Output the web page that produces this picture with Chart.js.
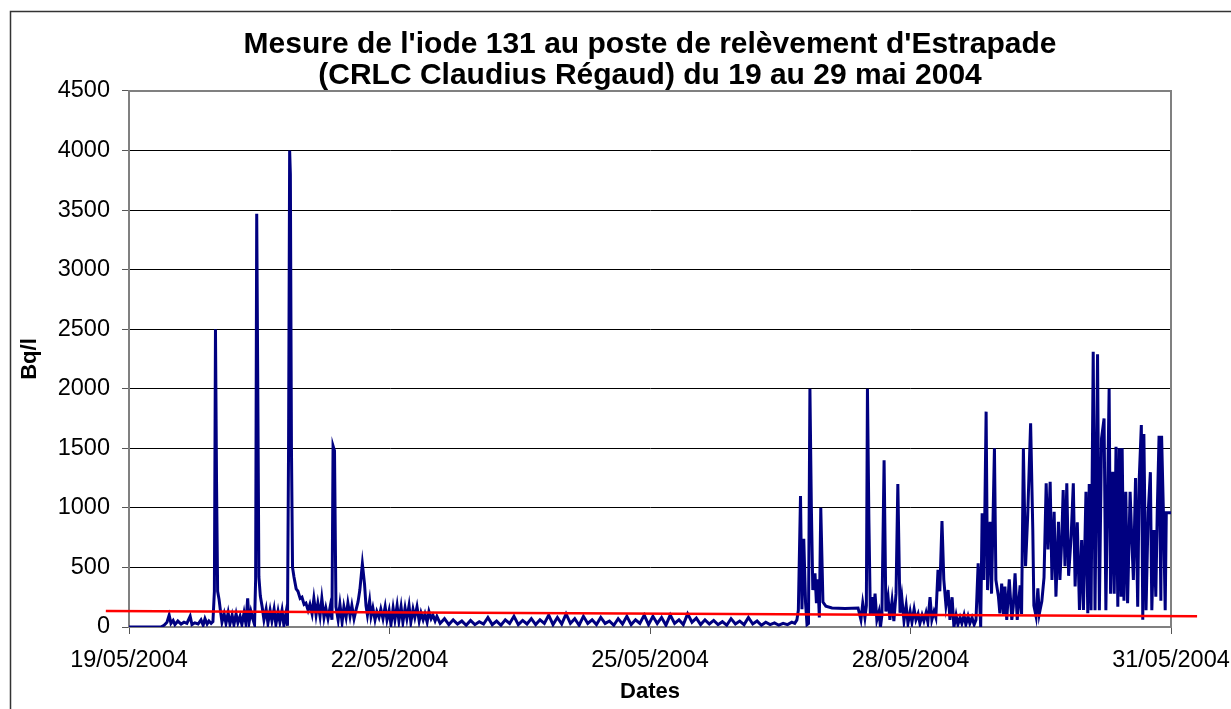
<!DOCTYPE html>
<html>
<head>
<meta charset="utf-8">
<title>Iode 131 - Estrapade</title>
<script src="https://cdn.jsdelivr.net/npm/chart.js@4.4.0/dist/chart.umd.min.js"></script>
<style>
  html, body { margin: 0; padding: 0; background: #fff; }
  #wrap { width: 1231px; height: 709px; }
</style>
</head>
<body>
<div id="wrap"><canvas id="chart" width="1231" height="709"></canvas></div>
<script>
// hours since 19/05/2004 00:00
const hours = [
  0, 8.8, 9.7, 10.5, 11.1, 11.6, 12.2, 12.7, 13.5, 14.4,
  15.2, 16.0, 16.9, 17.4, 18.2, 19.1, 19.9, 20.5, 21.0, 21.6,
  22.1, 22.7, 23.2, 23.6, 23.9, 24.2, 24.5, 24.9, 25.3, 25.7,
  26.3, 26.8, 27.4, 27.9, 28.5, 29.0, 29.6, 30.1, 30.7, 31.2,
  31.8, 32.3, 32.8, 33.2, 33.7, 34.3, 34.7, 35.0, 35.3, 35.6,
  35.9, 36.3, 36.8, 37.3, 37.9, 38.4, 39.0, 39.5, 40.1, 40.6,
  41.2, 41.7, 42.3, 42.8, 43.4, 43.8, 44.1, 44.4, 44.6, 44.9,
  45.2, 45.6, 46.2, 46.7, 47.3, 47.8, 48.4, 48.9, 49.5, 50.0,
  50.6, 51.1, 51.7, 52.2, 52.8, 53.3, 53.9, 54.4, 55.0, 55.6,
  56.1, 56.4, 56.8, 57.2, 57.8, 58.3, 58.9, 59.4, 60.0, 60.5,
  61.1, 61.6, 62.2, 62.8, 63.3, 63.8, 64.5, 65.1, 65.5, 65.9,
  66.5, 66.9, 67.4, 68.0, 68.5, 69.1, 69.6, 70.2, 70.8, 71.3,
  71.9, 72.4, 73.0, 73.5, 74.1, 74.6, 75.2, 75.7, 76.3, 76.8,
  77.4, 77.9, 78.5, 79.0, 79.6, 80.2, 80.7, 81.3, 81.8, 82.4,
  82.9, 83.5, 84.0, 84.6, 85.1, 86.0, 87.2, 88.4, 89.6, 90.8,
  92.0, 93.2, 94.4, 95.6, 96.8, 98.0, 99.2, 100.4, 101.6, 102.8,
  104.0, 105.2, 106.4, 107.6, 108.8, 110.0, 111.2, 112.4, 113.6, 114.8,
  116.0, 117.2, 118.4, 119.6, 120.8, 122.0, 123.2, 124.4, 125.6, 126.8,
  128.0, 129.2, 130.4, 131.6, 132.8, 134.0, 135.2, 136.4, 137.6, 138.8,
  140.0, 141.2, 142.4, 143.6, 144.8, 146.0, 147.2, 148.4, 149.6, 150.8,
  152.0, 153.2, 154.4, 155.6, 156.8, 158.0, 159.2, 160.4, 161.6, 162.8,
  164.0, 165.2, 166.4, 167.6, 168.8, 170.0, 171.2, 172.4, 173.6, 174.8,
  176.0, 177.2, 178.4, 179.6, 180.8, 182.0, 183.2, 184.0, 184.6, 185.0,
  185.6, 186.0, 186.5, 187.0, 187.4, 187.8, 188.2, 188.6, 189.0, 189.6,
  190.0, 190.4, 190.8, 191.2, 191.8, 192.6, 194.3, 197.9, 201.5, 202.3,
  202.8, 203.4, 203.8, 204.1, 204.5, 204.9, 205.3, 205.8, 206.2, 206.7,
  207.3, 207.7, 208.1, 208.7, 209.2, 209.8, 210.3, 210.9, 211.4, 212.0,
  212.5, 213.1, 213.6, 214.2, 214.8, 215.3, 215.9, 216.4, 217.0, 217.5,
  218.1, 218.6, 219.2, 219.7, 220.3, 220.8, 221.4, 221.9, 222.5, 223.0,
  223.6, 224.1, 224.7, 225.2, 225.8, 226.4, 226.9, 227.5, 228.0, 228.6,
  229.1, 229.7, 230.2, 230.8, 231.3, 231.9, 232.4, 233.0, 233.6, 234.1,
  234.7, 235.4, 235.8, 236.3, 236.9, 237.3, 238.0, 238.4, 239.2, 239.6,
  240.3, 240.7, 241.2, 241.7, 242.1, 242.6, 243.3, 244.0, 244.4, 244.9,
  245.5, 246.3, 246.7, 247.2, 247.8, 248.4, 249.2, 249.8, 250.1, 250.7,
  251.2, 251.6, 252.3, 252.9, 253.5, 254.0, 254.6, 255.1, 255.7, 256.2,
  256.9, 257.3, 257.8, 258.2, 258.7, 259.2, 259.7, 260.4, 261.0, 261.5,
  262.1, 262.7, 263.3, 263.8, 264.5, 265.0, 265.4, 265.9, 266.5, 267.0,
  267.7, 268.2, 268.8, 269.5, 270.0, 270.9, 271.3, 271.9, 272.3, 272.8,
  273.3, 273.7, 274.2, 274.5, 275.0, 275.5, 276.0, 276.7, 277.1, 277.6,
  278.2, 278.8, 279.2, 279.8, 280.2, 280.5, 281.1, 281.7, 282.3, 282.7,
  283.3, 283.8, 284.2, 284.7, 285.2, 285.4, 285.9, 286.4, 286.7, 288.0
];

// iode 131 in Bq/l
const bql = [
  0, 0, 15, 40, 100, 30, 55, 20, 50, 25,
  40, 30, 90, 20, 35, 25, 60, 15, 70, 25,
  50, 30, 45, 300, 2500, 1200, 300, 230, 130, 40,
  110, 30, 120, 25, 100, 20, 110, 35, 90, 20,
  120, 30, 240, 40, 130, 60, 20, 400, 3470, 2000,
  420, 260, 170, 60, 150, 30, 140, 50, 150, 20,
  130, 40, 140, 15, 120, 10, 1500, 4000, 3800, 1500,
  500, 420, 320, 300, 240, 250, 190, 200, 140, 190,
  110, 240, 100, 200, 90, 240, 80, 160, 70, 170,
  60, 1520, 1480, 170, 60, 190, 40, 170, 80, 200,
  90, 180, 70, 150, 210, 310, 530, 360, 180, 100,
  220, 90, 160, 60, 130, 80, 150, 70, 170, 60,
  140, 20, 160, 60, 180, 50, 170, 40, 160, 70,
  180, 40, 150, 80, 170, 50, 120, 60, 110, 40,
  130, 70, 100, 50, 90, 30, 70, 20, 60, 25,
  50, 15, 55, 20, 45, 25, 80, 20, 50, 15,
  60, 30, 90, 20, 55, 25, 70, 20, 60, 30,
  100, 20, 80, 25, 110, 30, 70, 15, 90, 30,
  60, 20, 80, 30, 50, 15, 70, 25, 90, 20,
  60, 30, 100, 20, 90, 30, 80, 15, 100, 30,
  60, 20, 110, 40, 75, 20, 60, 25, 55, 20,
  45, 15, 70, 25, 50, 20, 80, 25, 50, 15,
  40, 20, 35, 15, 30, 20, 40, 30, 60, 140,
  1100, 150, 740, 200, 20, 30, 2000, 1000, 310, 450,
  200, 400, 80, 1000, 210, 175, 160, 155, 160, 60,
  200, 80, 180, 2000, 900, 110, 250, 100, 280, 60,
  130, 0, 100, 1400, 130, 250, 60, 220, 50, 280,
  1200, 120, 250, 50, 180, 30, 130, 40, 150, 60,
  110, 30, 100, 50, 120, 40, 250, 60, 130, 80,
  480, 300, 890, 400, 180, 310, 60, 250, 0, 100,
  20, 80, 30, 100, 20, 90, 30, 80, 20, 60,
  535, 0, 954, 395, 1808, 310, 884, 280, 1500, 395,
  255, 115, 365, 110, 340, 60, 400, 60, 170, 450,
  60, 350, 110, 1500, 510, 940, 1710, 814, 180, 90,
  325, 110, 215, 415, 1206, 650, 1220, 395, 968, 255,
  884, 395, 730, 1150, 510, 1206, 430, 760, 1206, 340,
  880, 143, 730, 143, 1136, 115, 1200, 140, 2310, 140,
  2290, 140, 1584, 1750, 140, 2000, 280, 1304, 280, 1514,
  170, 1500, 255, 1500, 220, 1136, 200, 1136, 790, 395,
  1250, 170, 1230, 1696, 60, 1620, 140, 968, 1300, 140,
  814, 255, 968, 1606, 220, 1606, 968, 140, 960, 960
];

// linear trend (red), drawn past both ends of the plot
const trendHours = [-6.4, 295.2];
const trendBql = [134, 90];

const dateLabels = ['19/05/2004', '22/05/2004', '25/05/2004', '28/05/2004', '31/05/2004'];
const titleLines = [
  "Mesure de l'iode 131 au poste de relèvement d'Estrapade",
  "(CRLC Claudius Régaud) du 19 au 29 mai 2004"
];

const FONT = '"Liberation Sans", Arial, Helvetica, sans-serif';

const frame = {
  id: 'frame',
  beforeDraw(chart) {
    const c = chart.ctx;
    c.save();
    c.fillStyle = '#fff';
    c.fillRect(0, 0, chart.width, chart.height);
    c.strokeStyle = '#333';
    c.lineWidth = 1.5;
    c.beginPath();
    c.moveTo(10.5, chart.height);
    c.lineTo(10.5, 11.5);
    c.lineTo(chart.width, 11.5);
    c.stroke();
    c.restore();
  },
  beforeDatasetsDraw(chart) {
    const a = chart.chartArea;
    const c = chart.ctx;
    c.save();
    c.strokeStyle = '#808080';
    c.lineWidth = 2;
    c.beginPath();
    c.moveTo(a.left, a.top);
    c.lineTo(a.right, a.top);
    c.lineTo(a.right, a.bottom);
    c.stroke();
    c.restore();
  }
};

const ctx = document.getElementById('chart').getContext('2d');
new Chart(ctx, {
  type: 'line',
  data: {
    datasets: [
      {
        label: 'tendance',
        data: trendHours.map((h, i) => ({ x: h, y: trendBql[i] })),
        borderColor: '#ff0000',
        borderWidth: 2.5,
        pointRadius: 0,
        clip: false,
        order: 0
      },
      {
        label: 'Bq/l',
        data: hours.map((h, i) => ({ x: h, y: bql[i] })),
        borderColor: '#000080',
        borderWidth: 3,
        pointRadius: 0,
        tension: 0,
        order: 1
      }
    ]
  },
  options: {
    responsive: false,
    animation: false,
    devicePixelRatio: 1,
    layout: { padding: { left: 0, right: 60, top: 0, bottom: 0 } },
    plugins: {
      legend: { display: false },
      tooltip: { enabled: false },
      title: {
        display: true,
        fullSize: false,
        text: titleLines,
        color: '#000',
        font: { family: FONT, size: 30, weight: 'bold', lineHeight: 1.033 },
        padding: { top: 29, bottom: 0 }
      }
    },
    scales: {
      x: {
        type: 'linear',
        min: 0,
        max: 288,
        afterFit: (scale) => {
          scale.height = 82;
          scale.paddingLeft = 0;
          scale.paddingRight = 0;
        },
        ticks: {
          stepSize: 72,
          autoSkip: false,
          maxRotation: 0,
          padding: 12,
          color: '#000',
          font: { family: FONT, size: 23.5 },
          callback: (v) => dateLabels[v / 72]
        },
        grid: {
          drawOnChartArea: false,
          drawTicks: true,
          tickLength: 7,
          tickColor: '#555'
        },
        border: { color: '#808080', width: 2 },
        title: {
          display: true,
          text: 'Dates',
          color: '#000',
          font: { family: FONT, size: 22, weight: 'bold' },
          padding: { top: 0, bottom: 4 }
        }
      },
      y: {
        min: 0,
        max: 4500,
        afterFit: (scale) => { scale.width = 129; },
        ticks: {
          stepSize: 500,
          padding: 12,
          color: '#000',
          font: { family: FONT, size: 23.5 },
          callback: (v) => String(v)
        },
        grid: {
          color: (c) => (c.tick && (c.tick.value === 4500 || c.tick.value === 0)) ? '#808080' : '#000000',
          lineWidth: 1,
          tickLength: 7,
          tickColor: '#555'
        },
        border: { color: '#808080', width: 2 },
        title: {
          display: true,
          text: 'Bq/l',
          color: '#000',
          font: { family: FONT, size: 22, weight: 'bold' },
          padding: { top: 17, bottom: 0 }
        }
      }
    }
  },
  plugins: [frame]
});
</script>
</body>
</html>
